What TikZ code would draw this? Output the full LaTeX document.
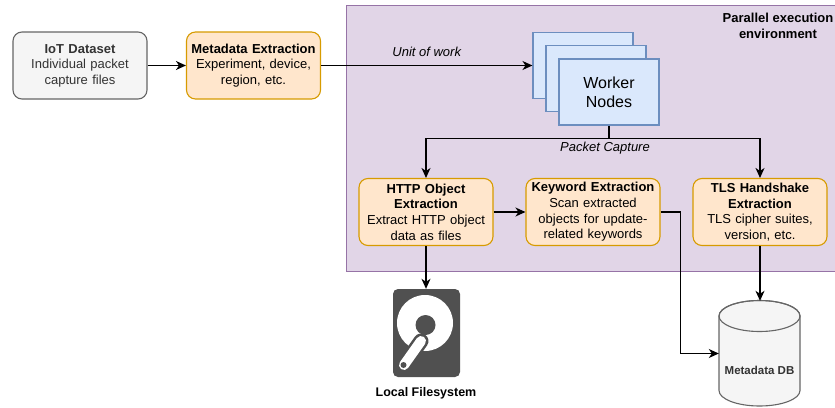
\documentclass[tikz,border=0pt]{standalone}
\usepackage{fontspec}
\setmainfont{Liberation Sans}
\usetikzlibrary{arrows.meta}
\definecolor{orfill}{HTML}{FFE6CC}
\definecolor{orline}{HTML}{D79B00}
\definecolor{blfill}{HTML}{DAE8FC}
\definecolor{blline}{HTML}{6C8EBF}
\definecolor{pufill}{HTML}{E1D5E7}
\definecolor{puline}{HTML}{9673A6}
\definecolor{grfill}{HTML}{F5F5F5}
\definecolor{grline}{HTML}{666666}
\definecolor{grtext}{HTML}{333333}
\definecolor{hddgray}{HTML}{505050}
\begin{document}
\begin{tikzpicture}[x=1pt,y=-1pt,
  txt/.style={font=\fontsize{13}{15.6}\selectfont},
  box/.style={txt, draw, rounded corners=9pt, line width=1.1pt, align=center,
    inner sep=0pt, text width=132pt, minimum width=134pt, minimum height=67pt},
  orangebox/.style={box, fill=orfill, draw=orline},
  graybox/.style={box, fill=grfill, draw=grline, text=grtext},
  workerbox/.style={draw=blline, fill=blfill, line width=1.1pt, minimum width=100pt,
    minimum height=66pt, inner sep=0pt, align=center},
  arr/.style={-{Stealth[length=10pt,width=9pt,inset=3pt]}, line width=1.2pt},
  lbl/.style={font=\fontsize{13}{15.6}\selectfont\itshape},
  boldlbl/.style={font=\fontsize{13}{15.6}\selectfont\bfseries, align=center}
]
\useasboundingbox (0,0) rectangle (835,407);
\clip (0,0) rectangle (835,407);
\fill[white] (0,0) rectangle (835,407);

% container
\node[draw=puline, fill=pufill, line width=1.2pt, minimum width=504pt, minimum height=266pt,
  anchor=north west, inner sep=0pt] (env) at (346,5) {};
\node[boldlbl] (envlbl) at (778,26) {Parallel execution\\environment};

% boxes
\node[graybox] (iot) at (80,65.5) {\textbf{IoT Dataset}\\Individual packet\\capture files};
\node[orangebox] (meta) at (253.5,65.5) {\textbf{Metadata Extraction}\\Experiment, device,\\region, etc.};

\node[workerbox] (w1) at (583,65.5) {};
\node[workerbox] (w2) at (596,78.5) {};
\node[workerbox, font=\fontsize{16}{19.2}\selectfont] (worker) at (609,92) {Worker\\Nodes};

\node[orangebox] (http) at (426,212) {\textbf{HTTP Object}\\\textbf{Extraction}\\Extract HTTP object\\data as files};
\node[orangebox] (kw) at (593,212) {\textbf{Keyword Extraction}\\Scan extracted\\objects for update-\\related keywords};
\node[orangebox] (tls) at (760,212) {\textbf{TLS Handshake}\\\textbf{Extraction}\\TLS cipher suites,\\version, etc.};

% hard disk icon
\node[fill=hddgray, rounded corners=5pt, minimum width=67pt, minimum height=88pt, inner sep=0pt] (hdd) at (426.5,333) {};
\fill[white] (425,323) circle[radius=28pt];
\fill[hddgray] (425.5,325) circle[radius=10pt];
\draw[hddgray, line width=15pt, line cap=round] (421,341) -- (404,365);
\draw[white, line width=10pt, line cap=round] (421,341) -- (404,365);
\fill[hddgray] (403.5,365) circle[radius=3pt];
\node[font=\fontsize{12.5}{15}\selectfont\bfseries] (fslbl) at (426,393) {Local Filesystem};

% database cylinder
\node[minimum width=81pt, minimum height=105pt, inner sep=0pt] (db) at (759.5,353.5) {};
\filldraw[fill=grfill, draw=grline, line width=1.1pt] (719,316) -- (719,390.5)
  arc[start angle=180, end angle=360, x radius=40.5pt, y radius=15.5pt] -- (800,316)
  arc[start angle=0, end angle=180, x radius=40.5pt, y radius=15.5pt] -- cycle;
\draw[grline, line width=1.1pt] (759.5,316) ellipse[x radius=40.5pt, y radius=15.5pt];
\node[font=\fontsize{11.5}{14}\selectfont\bfseries, text=grtext] (dblbl) at (759.5,370) {Metadata DB};

% connectors
\draw[arr] (iot.east) -- (meta.east -| meta.west);
\draw[arr] (meta.east) -- node[lbl, yshift=14pt] {Unit of work} (w1.west);
\draw[arr] (worker.south) -- ++(0,13) coordinate (split) -| (http.north);
\draw[arr] (split) -| (tls.north);
\node[lbl] (pclbl) at ([xshift=-4pt, yshift=-10pt]split) {Packet Capture};
\draw[arr] (http.east) -- (kw.west);
\draw[arr] (http.south) -- (http.south |- hdd.north);
\draw[arr] (kw.east) -- ++(20,0) |- (db.west);
\draw[arr] (tls.south) -- (tls.south |- db.north);
\end{tikzpicture}
\end{document}
